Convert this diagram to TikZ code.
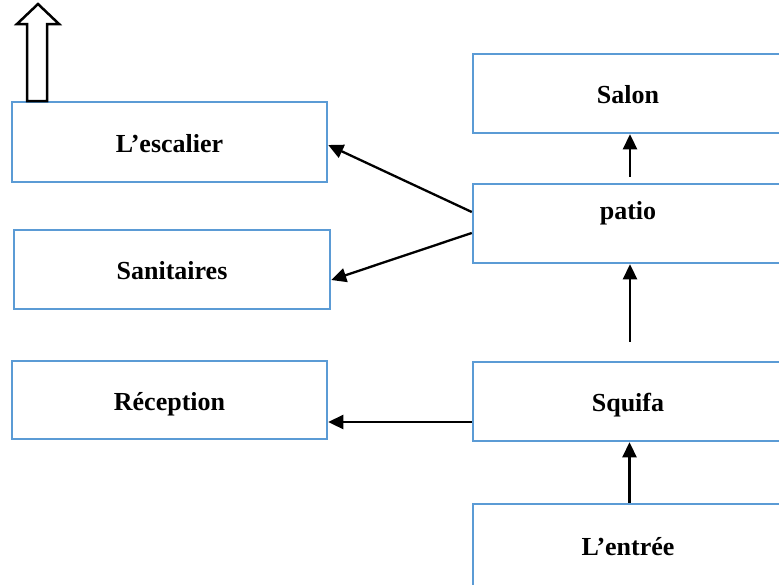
\documentclass[tikz,border=0pt]{standalone}
\usepackage{fontspec}
\setmainfont{Liberation Serif}
\usetikzlibrary{arrows.meta}

\definecolor{roomblue}{RGB}{91,155,213}
\tikzset{
  room/.style={draw=roomblue,line width=2.5pt,inner sep=0pt,text height=20pt,text depth=0pt,
    font=\fontsize{26}{30}\selectfont\bfseries,minimum height=79pt},
  link/.style={-{Triangle[length=15pt,width=14pt]},line width=2.3pt}
}

\begin{document}
\begin{tikzpicture}[x=1pt,y=-1pt]
    \useasboundingbox (0,0) rectangle (779,584);
    \node[room,minimum width=315pt,minimum height=80pt] (escalier) at (169.5,142) {L’escalier};
    \node[room,minimum width=316pt] (sanitaires) at (172,269.5) {Sanitaires};
    \node[room,minimum width=315pt,minimum height=78pt] (reception) at (169.5,400) {Réception};
    \node[room,minimum width=310pt] (salon) at (628,93.5) {Salon};
    \node[room,minimum width=310pt,text depth=29pt] (patio) at (628,223.5) {patio};
    \node[room,minimum width=310pt] (squifa) at (628,401.5) {Squifa};
    \node[room,minimum width=310pt,minimum height=82pt] (entree) at (628,545) {L’entrée};
    % sortie vers l'etage
    \draw[line width=2.5pt,fill=white] (27,101) -- (27,24) -- (17,24) -- (38,4) -- (59,24) -- (47,24) -- (47,101) -- cycle;
    \draw[link] ([xshift=1.5pt]entree.north) -- ([xshift=1.5pt]squifa.south);
    \draw[link] ([xshift=2pt,yshift=19pt]squifa.north) -- ([xshift=2pt]patio.south);
    \draw[link] ([xshift=2pt,yshift=6pt]patio.north) -- ([xshift=2pt]salon.south);
    \draw[link] ([yshift=11.5pt]patio.west) -- ([yshift=-3pt]escalier.east);
    \draw[link] ([yshift=-9.5pt]patio.west) -- ([yshift=-10.5pt]sanitaires.east);
    \draw[link] ([yshift=-20.5pt]squifa.west) -- ([yshift=-22pt]reception.east);
  \end{tikzpicture}
\end{document}
